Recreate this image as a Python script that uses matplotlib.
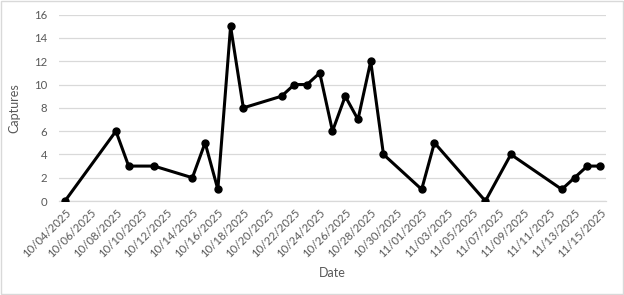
import datetime as dt
import matplotlib
matplotlib.use("Agg")
import matplotlib.pyplot as plt
import matplotlib.dates as mdates
from matplotlib.patches import Rectangle

# capture data
dates = ["10/04/2025", "10/08/2025", "10/09/2025", "10/11/2025", "10/14/2025",
         "10/15/2025", "10/16/2025", "10/17/2025", "10/18/2025", "10/21/2025",
         "10/22/2025", "10/23/2025", "10/24/2025", "10/25/2025", "10/26/2025",
         "10/27/2025", "10/28/2025", "10/29/2025", "11/01/2025", "11/02/2025",
         "11/06/2025", "11/08/2025", "11/12/2025", "11/13/2025", "11/14/2025",
         "11/15/2025"]
captures = [0, 6, 3, 3, 2, 5, 1, 15, 8, 9, 10, 10, 11, 6, 9, 7, 12, 4, 1, 5,
            0, 4, 1, 2, 3, 3]

x = [dt.datetime.strptime(d, "%m/%d/%Y") for d in dates]

plt.rcParams['font.family'] = ['Lato', 'DejaVu Sans']
grey = "#595959"

fig = plt.figure(figsize=(6.24, 2.95), dpi=100)
ax = fig.add_axes([0.0939, 0.3186, 0.8779, 0.6316])

ax.plot(x, captures, color="black", lw=2.2, marker="o", ms=5, zorder=3,
        solid_joinstyle="miter")

half = dt.timedelta(hours=12)
ax.set_xlim(x[0] - half, x[-1] + half)
ax.set_ylim(0, 16)
ax.set_yticks(range(0, 17, 2))
ax.xaxis.set_major_locator(mdates.DayLocator(interval=2))
ax.xaxis.set_major_formatter(mdates.DateFormatter("%m/%d/%Y"))
ax.set_xticks([x[0] + dt.timedelta(days=2 * i) for i in range(22)])

ax.grid(axis="y", color="#d9d9d9", lw=0.9)
ax.set_axisbelow(True)
for s in ["top", "right", "left"]:
    ax.spines[s].set_visible(False)
ax.spines["bottom"].set_color("#d9d9d9")
ax.spines["bottom"].set_linewidth(0.9)
ax.tick_params(axis="both", length=0, colors=grey, labelsize=8.2)
ax.tick_params(axis="y", pad=8)
plt.setp(ax.get_xticklabels(), rotation=45, ha="right", rotation_mode="anchor")
ax.tick_params(axis="x", pad=4)

ax.set_ylabel("Captures", color=grey, fontsize=9, labelpad=10)
ax.set_xlabel("Date", color=grey, fontsize=9, labelpad=6)

# chart border
fig.patches.append(Rectangle((0.001, 0.002), 0.997, 0.995, transform=fig.transFigure,
                             fill=False, edgecolor="#d9d9d9", lw=1))

fig.savefig("out.png", dpi=100)
